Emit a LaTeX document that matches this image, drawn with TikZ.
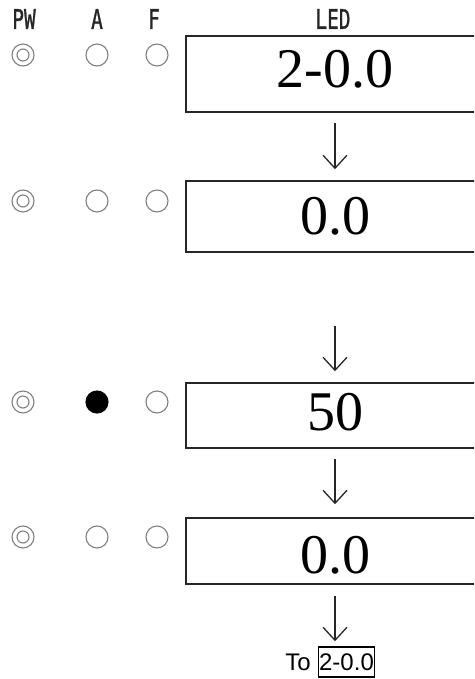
\documentclass[tikz,border=0pt]{standalone}
\usepackage{fontspec}
\setmainfont{Liberation Serif}
\newfontfamily\hdrfont[FakeBold=1.2]{DejaVu Sans Mono}
\newfontfamily\arialfont{Liberation Sans}
\usetikzlibrary{arrows.meta}
\tikzset{
  ledbox/.style={draw=black!85, line width=1.6pt, minimum width=298pt, inner sep=0pt,
    font=\fontsize{56}{56}\selectfont},
  hdr/.style={font=\hdrfont\fontsize{27}{27}\selectfont, text=black!85, inner sep=0pt},
  lamp/.style={circle, draw=black!50, line width=1.1pt, minimum size=22pt, inner sep=0pt},
  lampin/.style={circle, draw=black!50, line width=1.1pt, minimum size=12pt, inner sep=0pt},
  lampon/.style={circle, fill=black, draw=black, line width=1.1pt, minimum size=22pt, inner sep=0pt},
  arr/.style={draw=black!85, line width=1.3pt, -{Straight Barb[length=13pt,width=24pt]}},
  totext/.style={font=\arialfont\fontsize{24}{24}\selectfont, inner sep=0pt}
}
\begin{document}
\begin{tikzpicture}[x=1pt,y=-1pt]
\useasboundingbox (0,0) rectangle (474,679);
\clip (0,0) rectangle (474,679);
% header
\node[hdr] (hpw) at (24,19) {\scalebox{0.72}[1]{PW}};
\node[hdr] (ha) at (97,19) {\scalebox{0.72}[1]{A}};
\node[hdr] (hf) at (154,19) {\scalebox{0.72}[1]{F}};
\node[hdr] (hled) at (333,19) {\scalebox{0.72}[1]{LED}};
% LED boxes
\node[ledbox, minimum height=76pt, text height=38pt, text depth=10pt] (b1) at (335,74) {2-0.0};
\node[ledbox, minimum height=71pt] (b2) at (335,216.5) {0.0};
\node[ledbox, minimum height=65pt, text height=38pt, text depth=9pt] (b3) at (335,415.5) {50};
\node[ledbox, minimum height=66pt, text height=44pt, text depth=0pt] (b4) at (335,551) {0.0};
% lamps
\foreach \r/\y in {1/55,2/201,3/402,4/537}{
  \node[lamp] (pw\r) at (23,\y) {};
  \node[lampin] (pwi\r) at (23,\y) {};
  \node[lamp] (f\r) at (157,\y) {};
}
\node[lamp] (a1) at (97,55) {};
\node[lamp] (a2) at (97,201) {};
\node[lampon] (a3) at (97,402) {};
\node[lamp] (a4) at (97,537) {};
% bottom text
\node[totext] (to) at (298,662) {To};
\node[totext, draw=black, line width=1.6pt, inner xsep=0.5pt, minimum height=30pt] (t2) at (346.5,662) {2-0.0};
% arrows
\draw[arr, shorten <=10pt, shorten >=11pt] (b1) -- (b2);
\draw[arr, shorten <=73pt, shorten >=11pt] (b2) -- (b3);
\draw[arr, shorten <=10pt, shorten >=13pt] (b3) -- (b4);
\draw[arr, shorten <=11pt, shorten >=5pt] (b4) -- (b4 |- t2.north);
\end{tikzpicture}
\end{document}
